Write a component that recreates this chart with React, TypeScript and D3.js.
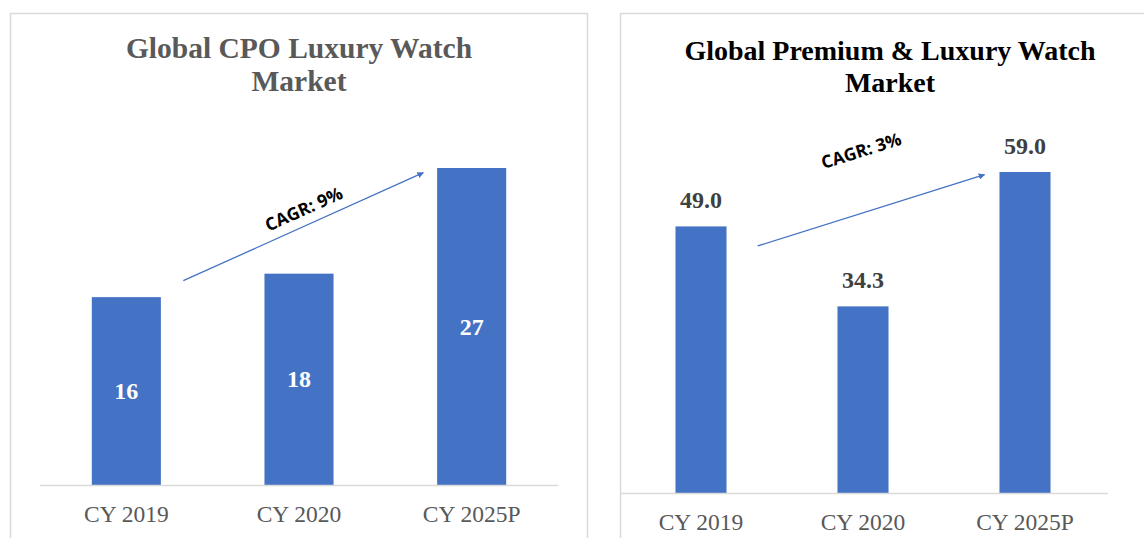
import React from 'react';
import * as d3 from 'd3';

// Left chart: Global CPO luxury watch market
const cpoYears = ['CY 2019', 'CY 2020', 'CY 2025P'];
const cpoValues = [16, 18, 27];
const cpoCagr = 'CAGR: 9%';

// Right chart: Global premium & luxury watch market
const premYears = ['CY 2019', 'CY 2020', 'CY 2025P'];
const premValues = [49.0, 34.3, 59.0];
const premCagr = 'CAGR: 3%';

const BAR = '#4472C4';
const GRID = '#D9D9D9';
const SERIF = '"Liberation Serif", "Times New Roman", serif';
const SANS = '"Open Sans", "Noto Sans", sans-serif';

function Arrow({ x1, y1, x2, y2, id }: any) {
  return (
    <g>
      <defs>
        <marker id={id} viewBox="0 0 10 10" refX="9" refY="5" markerWidth="5" markerHeight="5" orient="auto">
          <path d="M0,0 L10,5 L0,10 z" fill={BAR} />
        </marker>
      </defs>
      <line x1={x1} y1={y1} x2={x2} y2={y2} stroke={BAR} strokeWidth={1.3} markerEnd={`url(#${id})`} />
    </g>
  );
}

function LeftChart() {
  const x = d3.scalePoint<string>().domain(cpoYears).range([40, 558]).padding(0.5);
  const step = x.step();
  const bw = step * 0.4;
  const y = d3.scaleLinear().domain([0, 27]).range([485, 168]);

  // arrow anchored to the first and last bars
  const ax1 = x(cpoYears[0])! + step * 0.33;
  const ay1 = y(cpoValues[0] + 1.4);
  const ax2 = x(cpoYears[2])! - step * 0.28;
  const ay2 = y(cpoValues[2] - 0.4);
  const ang = (Math.atan2(ay2 - ay1, ax2 - ax1) * 180) / Math.PI;
  const tx = (ax1 + ax2) / 2 + 3;
  const ty = (ay1 + ay2) / 2 - 12;

  return (
    <g>
      <rect x={10.5} y={13.5} width={577} height={600} fill="#fff" stroke={GRID} strokeWidth={1.5} />
      <text x={299} y={58} textAnchor="middle" fontFamily={SERIF} fontWeight="bold" fontSize={29.5} fill="#595959">
        <tspan x={299}>Global CPO Luxury Watch</tspan>
        <tspan x={299} dy={33}>Market</tspan>
      </text>
      {cpoYears.map((c, i) => (
        <g key={c}>
          <rect x={x(c)! - bw / 2} y={y(cpoValues[i])} width={bw} height={y(0) - y(cpoValues[i])} fill={BAR} />
          <text x={x(c)} y={(y(0) + y(cpoValues[i])) / 2 + 8} textAnchor="middle" fontFamily={SERIF}
            fontWeight="bold" fontSize={24} fill="#fff">{d3.format('d')(cpoValues[i])}</text>
          <text x={x(c)} y={522} textAnchor="middle" fontFamily={SERIF} fontSize={23.5} fill="#595959">{c}</text>
        </g>
      ))}
      <line x1={40} x2={558} y1={y(0) + 0.5} y2={y(0) + 0.5} stroke={GRID} strokeWidth={1.5} />
      <Arrow id="arrL" x1={ax1} y1={ay1} x2={ax2} y2={ay2} />
      <text transform={`translate(${tx},${ty}) rotate(${ang})`} textAnchor="middle" fontFamily={SANS}
        fontWeight="bold" fontSize={17.5} fill="#000">{cpoCagr}</text>
    </g>
  );
}

function RightChart() {
  const x = d3.scalePoint<string>().domain(premYears).range([620, 1106]).padding(0.5);
  const step = x.step();
  const bw = step * 0.315;
  const y = d3.scaleLinear().domain([0, 59]).range([493, 172]);

  const ax1 = x(premYears[0])! + step * 0.35;
  const ay1 = y(45.4);
  const ax2 = x(premYears[2])! - step * 0.25;
  const ay2 = y(premValues[2] - 0.5);
  const ang = (Math.atan2(ay2 - ay1, ax2 - ax1) * 180) / Math.PI;
  const tx = 863;
  const ty = y(premValues[2] - 0.5) - 18;

  return (
    <g>
      <rect x={620.5} y={13.5} width={600} height={600} fill="#fff" stroke={GRID} strokeWidth={1.5} />
      <text x={890} y={60} textAnchor="middle" fontFamily={SERIF} fontWeight="bold" fontSize={28} fill="#000">
        <tspan x={890}>Global Premium &amp; Luxury Watch</tspan>
        <tspan x={890} dy={32}>Market</tspan>
      </text>
      {premYears.map((c, i) => (
        <g key={c}>
          <rect x={x(c)! - bw / 2} y={y(premValues[i])} width={bw} height={y(0) - y(premValues[i])} fill={BAR} />
          <text x={x(c)} y={y(premValues[i]) - 18} textAnchor="middle" fontFamily={SERIF}
            fontWeight="bold" fontSize={24} fill="#404040">{d3.format('.1f')(premValues[i])}</text>
          <text x={x(c)} y={530} textAnchor="middle" fontFamily={SERIF} fontSize={23.5} fill="#595959">{c}</text>
        </g>
      ))}
      <line x1={620} x2={1108} y1={y(0) + 0.5} y2={y(0) + 0.5} stroke={GRID} strokeWidth={1.5} />
      <Arrow id="arrR" x1={ax1} y1={ay1} x2={ax2} y2={ay2} />
      <text transform={`translate(${tx},${ty}) rotate(${ang})`} textAnchor="middle" fontFamily={SANS}
        fontWeight="bold" fontSize={17.5} fill="#000">{premCagr}</text>
    </g>
  );
}

export default function App() {
  return (
    <svg width={1144} height={538} style={{ position: 'absolute', left: 0, top: 0, background: '#fff' }}>
      <rect width={1144} height={538} fill="#fff" />
      <LeftChart />
      <RightChart />
    </svg>
  );
}
